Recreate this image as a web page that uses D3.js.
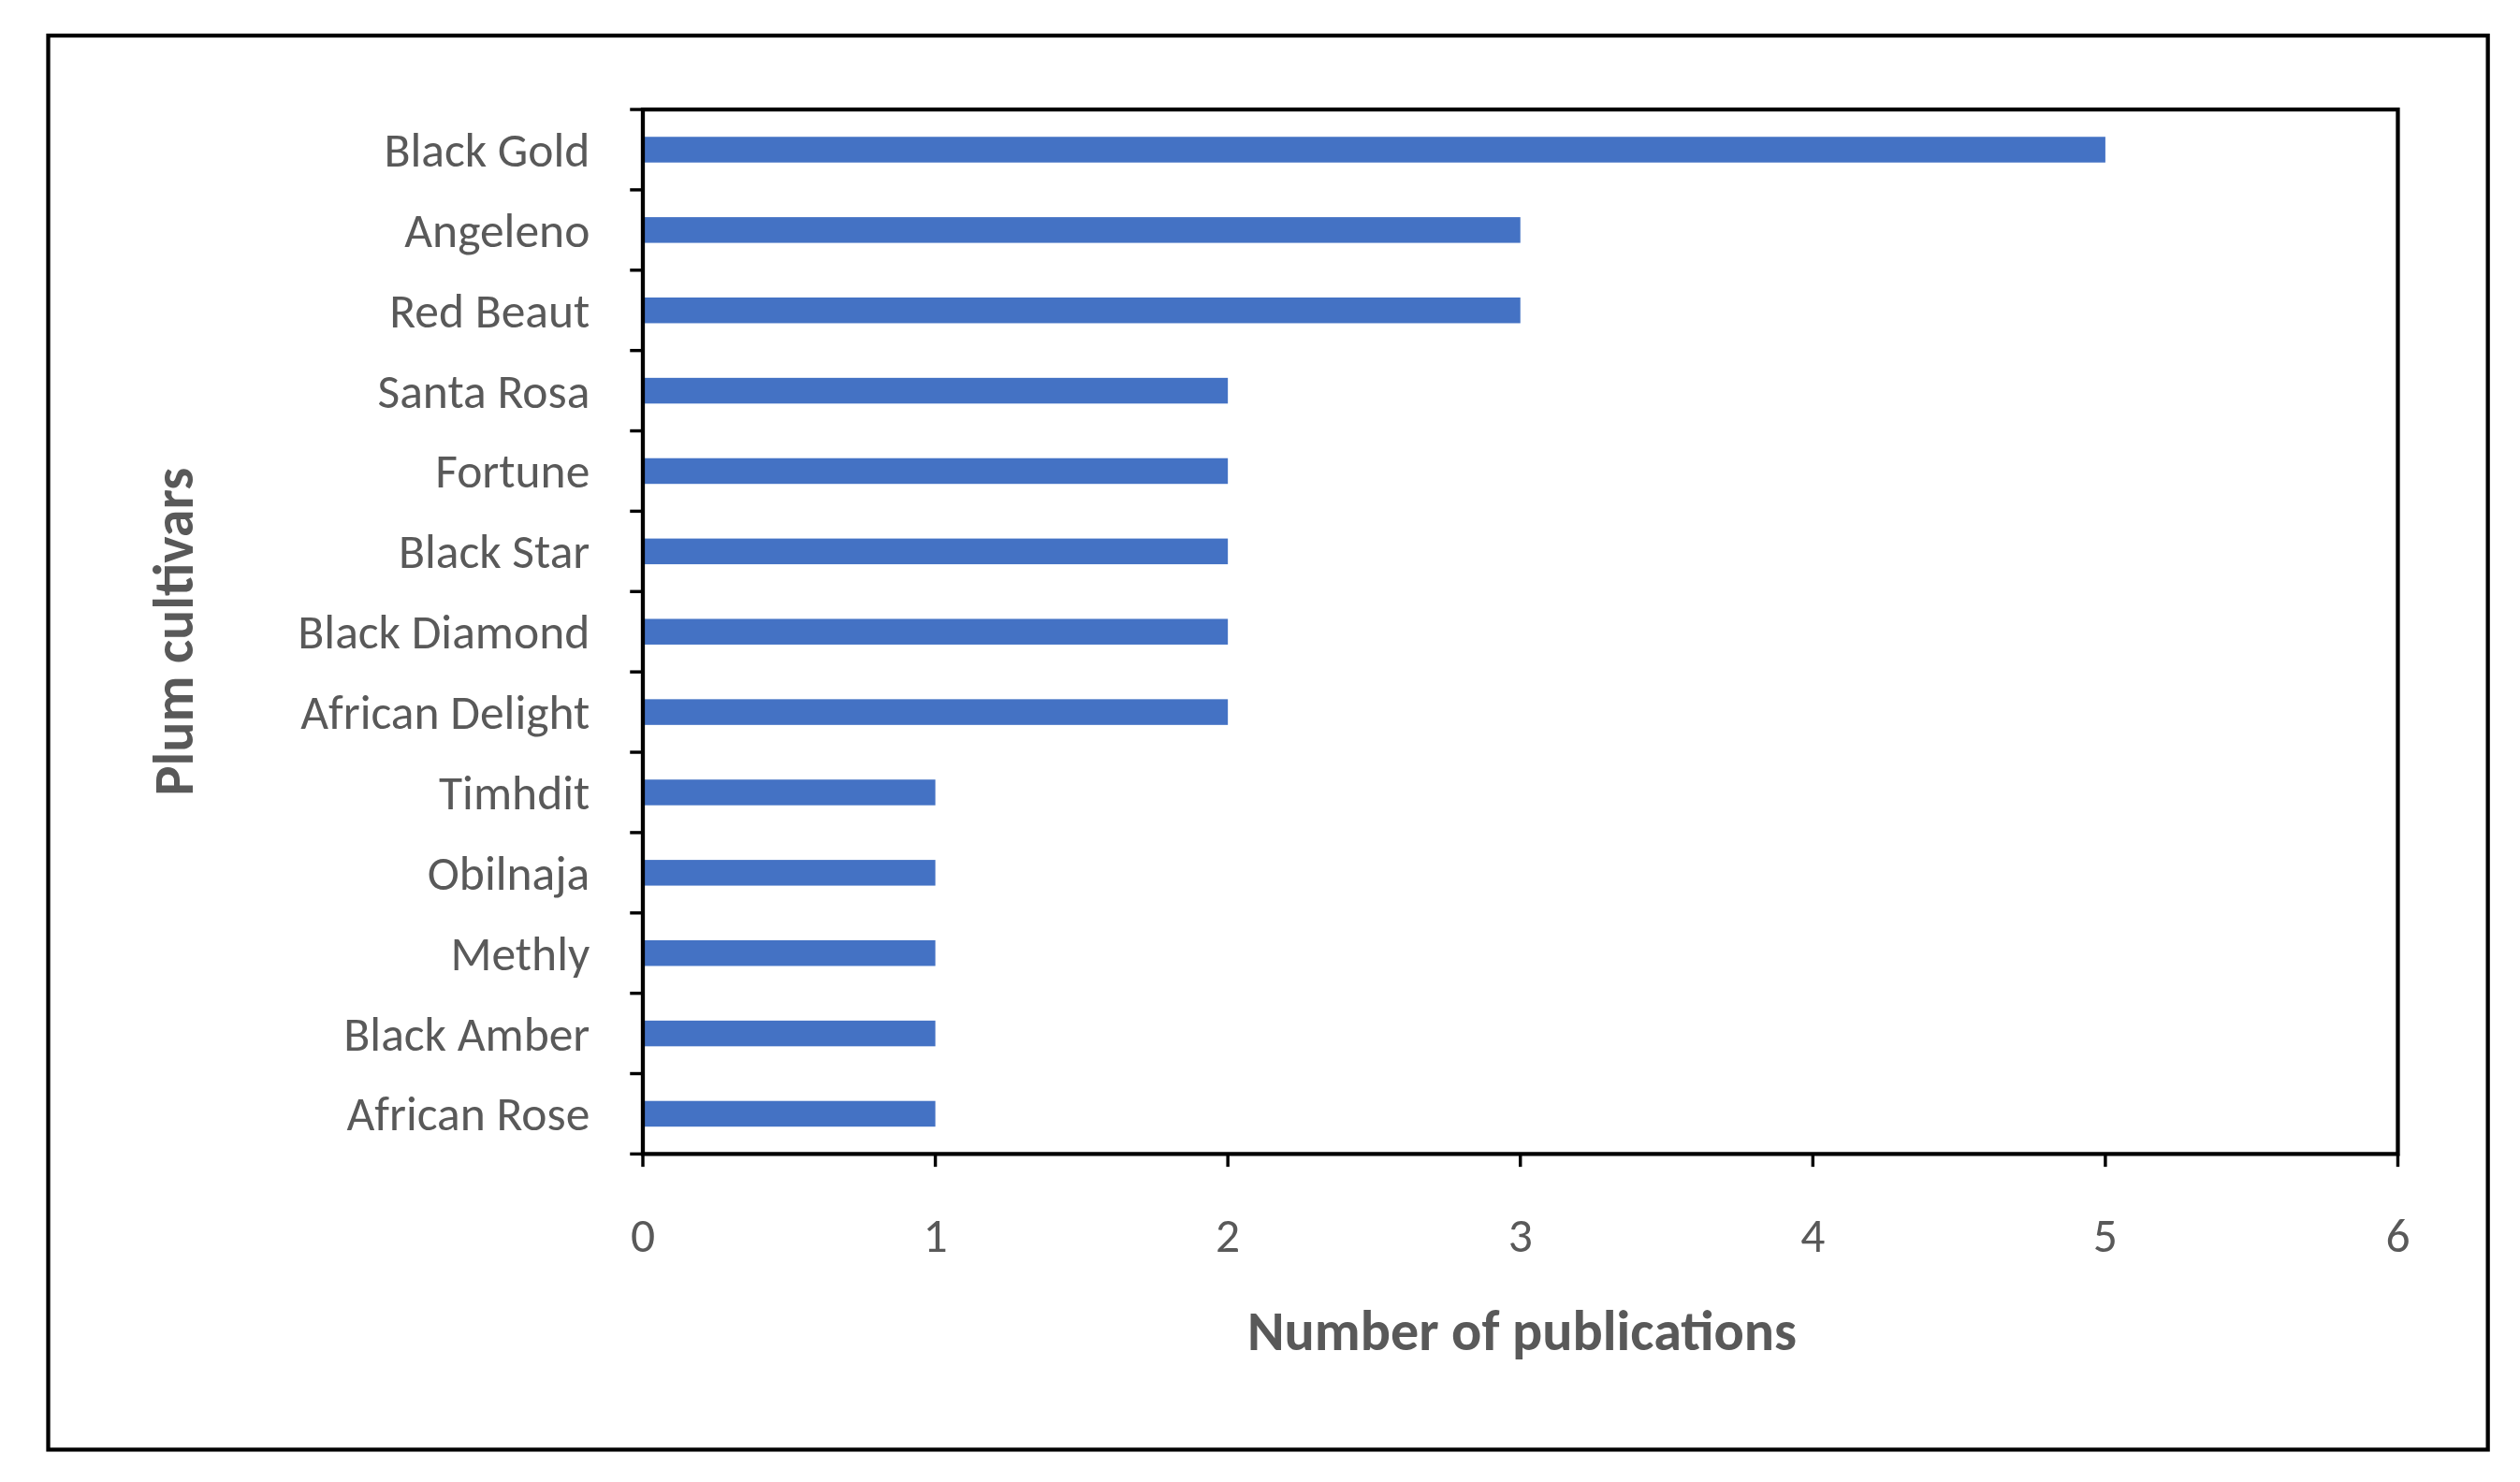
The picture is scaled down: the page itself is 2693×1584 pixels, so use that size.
<!DOCTYPE html>
<meta charset="utf-8">
<title>Plum cultivars</title>
<style>
  body { margin: 0; background: #fff; }
  text { font-family: Calibri, Carlito, "Open Sans", sans-serif; fill: #595959; }
</style>
<body>
<script src="https://d3js.org/d3.v7.min.js"></script>
<script>

var cultivars = ['Black Gold', 'Angeleno', 'Red Beaut', 'Santa Rosa', 'Fortune', 'Black Star',
  'Black Diamond', 'African Delight', 'Timhdit', 'Obilnaja', 'Methly', 'Black Amber', 'African Rose'];
var publications = [5, 3, 3, 2, 2, 2, 2, 2, 1, 1, 1, 1, 1];
var xTicks = [0, 1, 2, 3, 4, 5, 6];

var rows = cultivars.map(function(c, i) { return {name: c, value: publications[i]}; });

// drawn in the reference's display units, scaled up by the viewBox
var svg = d3.select('body').append('svg')
  .attr('width', 2693).attr('height', 1584)
  .attr('viewBox', '0 0 1568 922')

svg.append('rect').attr('x', 30).attr('y', 22).attr('width', 1518).attr('height', 880)
  .attr('fill', 'none').attr('stroke', '#000').attr('stroke-width', 2.5)

var pLeft = 400, pRight = 1492, pTop = 68, pBottom = 718;

var x = d3.scaleLinear().domain([0, 6]).range([pLeft, pRight]);
var y = d3.scaleBand().domain(cultivars).range([pTop, pBottom]).paddingInner(0.68).paddingOuter(0.34);

svg.selectAll('rect.bar').data(rows)
  .enter().append('rect').attr('class', 'bar')
  .attr('x', x(0))
  .attr('y', function(d) { return y(d.name); })
  .attr('width', function(d) { return x(d.value) - x(0); })
  .attr('height', y.bandwidth())
  .attr('fill', '#4472C4')

// frame
svg.append('rect').attr('x', pLeft).attr('y', pTop).attr('width', pRight - pLeft).attr('height', pBottom - pTop)
  .attr('fill', 'none').attr('stroke', '#000').attr('stroke-width', 2.5)

// y ticks at category boundaries
var step = (pBottom - pTop) / cultivars.length;
svg.selectAll('line.yt').data(d3.range(cultivars.length + 1))
  .enter().append('line').attr('class', 'yt')
  .attr('x1', pLeft - 8).attr('x2', pLeft)
  .attr('y1', function(i) { return pTop + i * step; })
  .attr('y2', function(i) { return pTop + i * step; })
  .attr('stroke', '#000').attr('stroke-width', 2)

svg.selectAll('text.yl').data(rows)
  .enter().append('text').attr('class', 'yl')
  .attr('x', pLeft - 33)
  .attr('y', function(d) { return y(d.name) + y.bandwidth() / 2; })
  .attr('dy', '0.35em').attr('text-anchor', 'end').attr('font-size', 30)
  .text(function(d) { return d.name; })

svg.selectAll('line.xt').data(xTicks)
  .enter().append('line').attr('class', 'xt')
  .attr('x1', x).attr('x2', x).attr('y1', pBottom).attr('y2', pBottom + 8)
  .attr('stroke', '#000').attr('stroke-width', 2)

svg.selectAll('text.xl').data(xTicks)
  .enter().append('text').attr('class', 'xl')
  .attr('x', x).attr('y', 779).attr('text-anchor', 'middle').attr('font-size', 30)
  .text(function(d) { return d; })

svg.append('text').attr('x', 947).attr('y', 840).attr('text-anchor', 'middle')
  .attr('font-size', 35).attr('font-weight', 'bold')
  .text('Number of publications')

svg.append('text').attr('transform', 'translate(120,393) rotate(-90)').attr('text-anchor', 'middle')
  .attr('font-size', 35).attr('font-weight', 'bold')
  .text('Plum cultivars')

</script>
</body>
